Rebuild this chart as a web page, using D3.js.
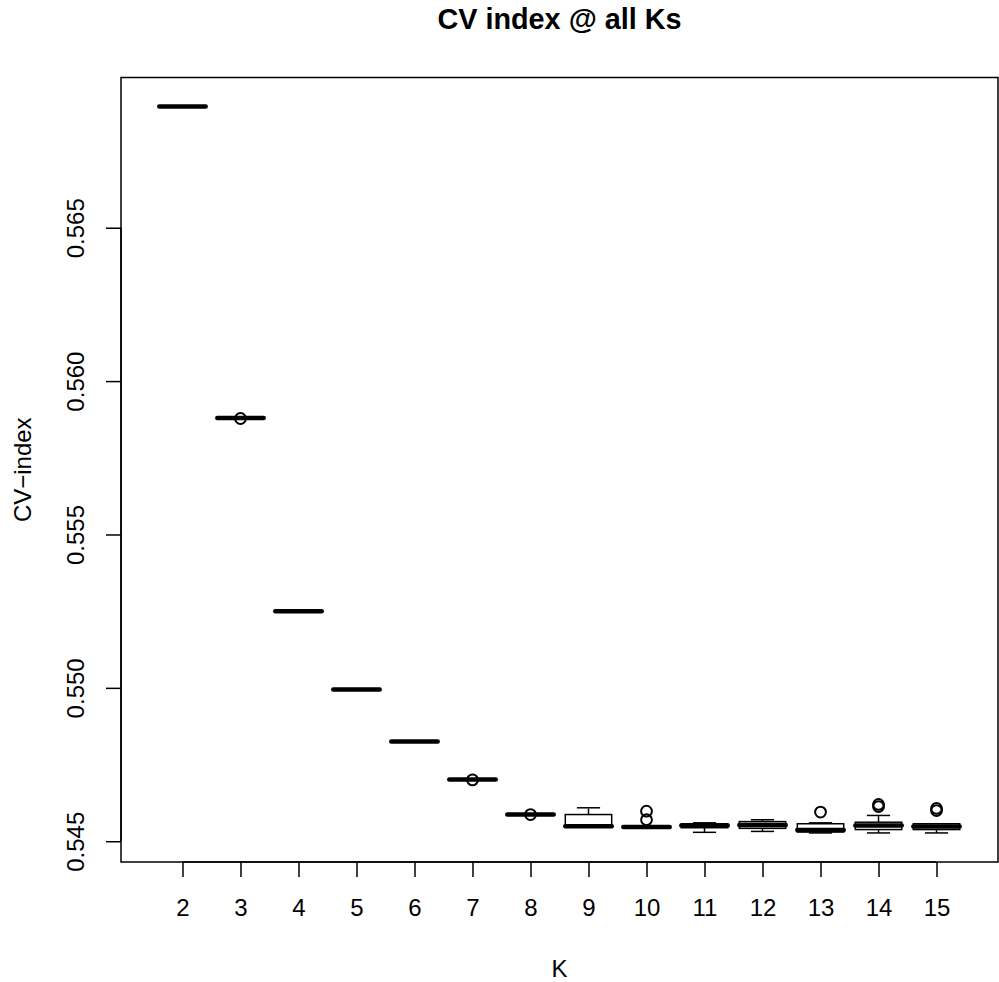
<!DOCTYPE html>
<html>
<head>
<meta charset="utf-8">
<script src="https://cdn.jsdelivr.net/npm/d3@7"></script>
<style>
html,body{margin:0;padding:0;background:#fff;}
svg{display:block;}
</style>
</head>
<body>
<script>
// ---- data ----
const categories = ["2","3","4","5","6","7","8","9","10","11","12","13","14","15"];
const whiskerLow = [0.56895,0.55880,0.55250,0.54995,0.54825,0.54701,0.54587,0.54549,0.54545,0.54529,0.54532,0.54527,0.54527,0.54527];
const quart1     = [0.56895,0.55880,0.55250,0.54995,0.54825,0.54701,0.54587,0.54549,0.54545,0.54544,0.54542,0.54530,0.54538,0.54538];
const medians    = [0.56895,0.55880,0.55250,0.54995,0.54825,0.54701,0.54587,0.54549,0.54546,0.54551,0.54553,0.54537,0.54551,0.54548];
const quart3     = [0.56895,0.55880,0.55250,0.54995,0.54825,0.54701,0.54587,0.54587,0.54547,0.54557,0.54564,0.54557,0.54562,0.54557];
const whiskerHigh= [0.56895,0.55880,0.55250,0.54995,0.54825,0.54701,0.54587,0.54609,0.54547,0.54560,0.54570,0.54560,0.54584,0.54557];
const outliers   = [[],[0.55878],[],[],[],[0.54700],[0.54587],[],[0.54598,0.54570],[],[],[0.54595],[0.54620,0.54613],[0.54600,0.54607]];
const yTicks = [0.545,0.550,0.555,0.560,0.565];
const titleText = "CV index @ all Ks";
const xLabel = "K";
const yLabel = "CV\u2212index";

// ---- layout ----
const W = 999, H = 982;
const plot = {left:121, right:998, top:77.5, bottom:862};

const svg = d3.select("body").append("svg").attr("width",W).attr("height",H)
  .style("font-family","'Liberation Sans', Arial, Helvetica, sans-serif");

const n = categories.length;
const xPad = 0.04 * n;
const x = d3.scaleLinear().domain([0.5 - xPad, n + 0.5 + xPad]).range([plot.left, plot.right]);

const allVals = whiskerLow.concat(whiskerHigh, outliers.flat());
const yMin = d3.min(allVals), yMax = d3.max(allVals);
const yPad = 0.04 * (yMax - yMin);
const y = d3.scaleLinear().domain([yMin - yPad, yMax + yPad]).range([plot.bottom, plot.top]);

const lw = 1.5;
const boxW = 0.8 * (x(2) - x(1));

const g = svg.append("g");
categories.forEach((c,i) => {
  const cx = x(i+1);
  const grp = g.append("g");
  // whiskers (dashed)
  if (whiskerHigh[i] > quart3[i]) {
    grp.append("line").attr("x1",cx).attr("x2",cx).attr("y1",y(quart3[i])).attr("y2",y(whiskerHigh[i]))
      .attr("stroke","#000").attr("stroke-width",lw).attr("stroke-dasharray","6,6");
  }
  if (whiskerLow[i] < quart1[i]) {
    grp.append("line").attr("x1",cx).attr("x2",cx).attr("y1",y(quart1[i])).attr("y2",y(whiskerLow[i]))
      .attr("stroke","#000").attr("stroke-width",lw).attr("stroke-dasharray","6,6");
  }
  // staples
  [whiskerLow[i], whiskerHigh[i]].forEach(v => {
    grp.append("line").attr("x1",cx - boxW/4).attr("x2",cx + boxW/4).attr("y1",y(v)).attr("y2",y(v))
      .attr("stroke","#000").attr("stroke-width",lw);
  });
  // box
  grp.append("rect").attr("x",cx - boxW/2).attr("width",boxW)
    .attr("y",y(quart3[i])).attr("height",Math.max(0,y(quart1[i]) - y(quart3[i])))
    .attr("fill","#fff").attr("stroke","#000").attr("stroke-width",lw);
  // median
  grp.append("line").attr("x1",cx - boxW/2).attr("x2",cx + boxW/2).attr("y1",y(medians[i])).attr("y2",y(medians[i]))
    .attr("stroke","#000").attr("stroke-width",4.5).attr("stroke-linecap","round");
  // outliers
  outliers[i].forEach(v => {
    grp.append("circle").attr("cx",cx).attr("cy",y(v)).attr("r",5.4)
      .attr("fill","none").attr("stroke","#000").attr("stroke-width",2);
  });
});

// frame
svg.append("rect").attr("x",plot.left).attr("y",plot.top)
  .attr("width",plot.right-plot.left).attr("height",plot.bottom-plot.top)
  .attr("fill","none").attr("stroke","#000").attr("stroke-width",lw);

// x axis
const xAxis = d3.axisBottom(x).tickValues(d3.range(1,n+1)).tickFormat(d => categories[d-1])
  .tickSize(15).tickPadding(0).tickSizeOuter(0);
const gx = svg.append("g").attr("transform",`translate(0,${plot.bottom})`).call(xAxis);
gx.select(".domain").attr("d",`M${x(1)},0H${x(n)}`).attr("stroke-width",lw);
gx.selectAll(".tick line").attr("stroke-width",lw);
gx.selectAll(".tick text").attr("dy",null).attr("y",54).attr("font-size",24).attr("fill","#000")
  .style("font-family","'Liberation Sans', Arial, Helvetica, sans-serif");

// y axis
const yAxis = d3.axisLeft(y).tickValues(yTicks).tickFormat(d3.format(".3f")).tickSize(15).tickSizeOuter(0);
const gy = svg.append("g").attr("transform",`translate(${plot.left},0)`).call(yAxis);
gy.select(".domain").attr("d",`M0,${y(yTicks[0])}V${y(yTicks[yTicks.length-1])}`).attr("stroke-width",lw);
gy.selectAll(".tick line").attr("stroke-width",lw);
gy.selectAll(".tick text").attr("x",null).attr("dy",null)
  .attr("transform","translate(-37,0) rotate(-90)")
  .attr("text-anchor","middle").attr("font-size",24).attr("fill","#000")
  .style("font-family","'Liberation Sans', Arial, Helvetica, sans-serif");

// title & labels
svg.append("text").attr("x",(plot.left+plot.right)/2).attr("y",29).attr("text-anchor","middle")
  .attr("font-size",28.8).attr("font-weight","bold").text(titleText);
svg.append("text").attr("x",(plot.left+plot.right)/2).attr("y",977).attr("text-anchor","middle")
  .attr("font-size",24).text(xLabel);
svg.append("text").attr("transform",`translate(31,${(plot.top+plot.bottom)/2}) rotate(-90)`)
  .attr("text-anchor","middle").attr("font-size",24).text(yLabel);
</script>
</body>
</html>
